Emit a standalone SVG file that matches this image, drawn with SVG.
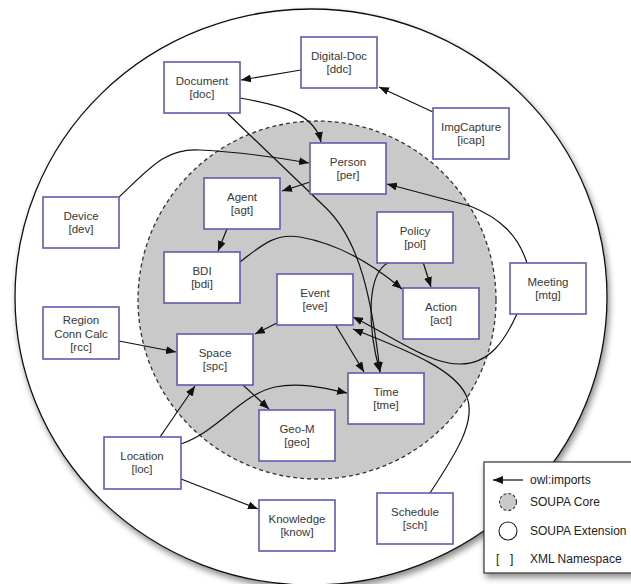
<svg xmlns="http://www.w3.org/2000/svg" width="631" height="584" viewBox="0 0 631 584">
<defs>
<filter id="sh" x="-10%" y="-10%" width="130%" height="130%">
<feDropShadow dx="2" dy="4" stdDeviation="3" flood-color="#000" flood-opacity="0.45"/>
</filter>
<marker id="ah" viewBox="0 0 10 8" refX="10" refY="4" markerWidth="10" markerHeight="8" markerUnits="userSpaceOnUse" orient="auto">
<path d="M0,0 L10,4 L0,8 z" fill="#111"/>
</marker>
<style>
.box{fill:#fff;stroke:#5d5cb0;stroke-width:1.6}
.t{font-family:"Liberation Sans",Arial,sans-serif;font-size:11.5px;fill:#383838;text-anchor:middle}
.lg{font-family:"Liberation Sans",Arial,sans-serif;font-size:12px;fill:#222}
.e{fill:none;stroke:#111;stroke-width:1.2;marker-end:url(#ah)}
</style>
</defs>
<rect width="631" height="584" fill="#fff"/>
<g id="extension">
<ellipse cx="311" cy="297" rx="296" ry="288" fill="#fff" stroke="#111" stroke-width="1.3" filter="url(#sh)"/>
</g>
<g id="core">
<circle cx="317" cy="300" r="179" fill="#c9c9c9" stroke="#333" stroke-width="1.3" stroke-dasharray="4 3"/>
</g>
<g id="connectors">
<path class="e" d="M301,70 L241,80"/>
<path class="e" d="M433,112 L379,87"/>
<path class="e" d="M240,98 C285,106 315,115 321,142"/>
<path class="e" d="M228,114 L325,207 C360,240 372,300 380,372"/>
<path class="e" d="M390,262 C365,272 368,330 380,372"/>
<path class="e" d="M310,182 Q298,186 282,191"/>
<path class="e" d="M119,197 C150,168 165,148 200,150 C240,152 275,157 309,163"/>
<path class="e" d="M227,229 L218,251"/>
<path class="e" d="M240,262 C262,245 275,233 300,237 C340,244 375,266 402,289"/>
<path class="e" d="M423,262 L431,287"/>
<path class="e" d="M527,263 C518,235 500,218 470,206 L387,184"/>
<path class="e" d="M517,314 C505,340 490,364 460,364 C430,365 390,335 353,317"/>
<path class="e" d="M430,493 C455,455 478,420 466,395 C455,372 420,355 353,329"/>
<path class="e" d="M277,323 L255,334"/>
<path class="e" d="M335,324 L364,372"/>
<path class="e" d="M119,341 L176,352"/>
<path class="e" d="M243,385 L269,409"/>
<path class="e" d="M160,437 L195,386"/>
<path class="e" d="M181,444 C220,430 240,395 275,387 C300,382 325,388 347,393"/>
<path class="e" d="M181,479 L258,509"/>
</g>
<g id="doc"><rect class="box" x="164" y="62" width="76" height="51"/><text class="t" x="202" y="85">Document</text><text class="t" x="202" y="98">[doc]</text></g>
<g id="ddc"><rect class="box" x="301" y="37" width="76" height="51"/><text class="t" x="339" y="60">Digital-Doc</text><text class="t" x="339" y="73">[ddc]</text></g>
<g id="icap"><rect class="box" x="433" y="108" width="76" height="51"/><text class="t" x="471" y="131">ImgCapture</text><text class="t" x="471" y="144">[icap]</text></g>
<g id="per"><rect class="box" x="310" y="143" width="76" height="51"/><text class="t" x="348" y="166">Person</text><text class="t" x="348" y="179">[per]</text></g>
<g id="dev"><rect class="box" x="43" y="197" width="76" height="51"/><text class="t" x="81" y="220">Device</text><text class="t" x="81" y="233">[dev]</text></g>
<g id="agt"><rect class="box" x="204" y="178" width="76" height="51"/><text class="t" x="242" y="201">Agent</text><text class="t" x="242" y="214">[agt]</text></g>
<g id="pol"><rect class="box" x="377" y="212" width="76" height="51"/><text class="t" x="415" y="235">Policy</text><text class="t" x="415" y="248">[pol]</text></g>
<g id="bdi"><rect class="box" x="164" y="252" width="76" height="51"/><text class="t" x="202" y="275">BDI</text><text class="t" x="202" y="288">[bdi]</text></g>
<g id="mtg"><rect class="box" x="510" y="263" width="76" height="51"/><text class="t" x="548" y="286">Meeting</text><text class="t" x="548" y="299">[mtg]</text></g>
<g id="eve"><rect class="box" x="277" y="274" width="76" height="51"/><text class="t" x="315" y="297">Event</text><text class="t" x="315" y="310">[eve]</text></g>
<g id="act"><rect class="box" x="403" y="288" width="76" height="51"/><text class="t" x="441" y="311">Action</text><text class="t" x="441" y="324">[act]</text></g>
<g id="rcc"><rect class="box" x="43" y="307" width="76" height="52"/><text class="t" x="81" y="324">Region</text><text class="t" x="81" y="338">Conn Calc</text><text class="t" x="81" y="351">[rcc]</text></g>
<g id="spc"><rect class="box" x="177" y="334" width="76" height="51"/><text class="t" x="215" y="357">Space</text><text class="t" x="215" y="370">[spc]</text></g>
<g id="tme"><rect class="box" x="348" y="373" width="76" height="51"/><text class="t" x="386" y="396">Time</text><text class="t" x="386" y="409">[tme]</text></g>
<g id="geo"><rect class="box" x="259" y="410" width="76" height="51"/><text class="t" x="297" y="433">Geo-M</text><text class="t" x="297" y="446">[geo]</text></g>
<g id="loc"><rect class="box" x="104" y="437" width="77" height="52"/><text class="t" x="142" y="460">Location</text><text class="t" x="142" y="473">[loc]</text></g>
<g id="know"><rect class="box" x="259" y="500" width="76" height="51"/><text class="t" x="297" y="523">Knowledge</text><text class="t" x="297" y="536">[know]</text></g>
<g id="sch"><rect class="box" x="377" y="493" width="76" height="51"/><text class="t" x="415" y="516">Schedule</text><text class="t" x="415" y="529">[sch]</text></g>
<g id="legend">
<rect x="484" y="462" width="152" height="111" fill="#fff" stroke="#333" stroke-width="1.2" filter="url(#sh)"/>
<path class="e" d="M523,480 L493,480"/>
<text class="lg" x="530" y="484">owl:imports</text>
<circle cx="508" cy="502" r="8.5" fill="#c9c9c9" stroke="#333" stroke-width="1.1" stroke-dasharray="3 2"/>
<text class="lg" x="530" y="506">SOUPA Core</text>
<circle cx="508" cy="531" r="9" fill="#fff" stroke="#222" stroke-width="1.1"/>
<text class="lg" x="530" y="535">SOUPA Extension</text>
<text class="lg" x="496" y="563">[</text>
<text class="lg" x="510" y="563">]</text>
<text class="lg" x="530" y="563">XML Namespace</text>
</g>
</svg>
